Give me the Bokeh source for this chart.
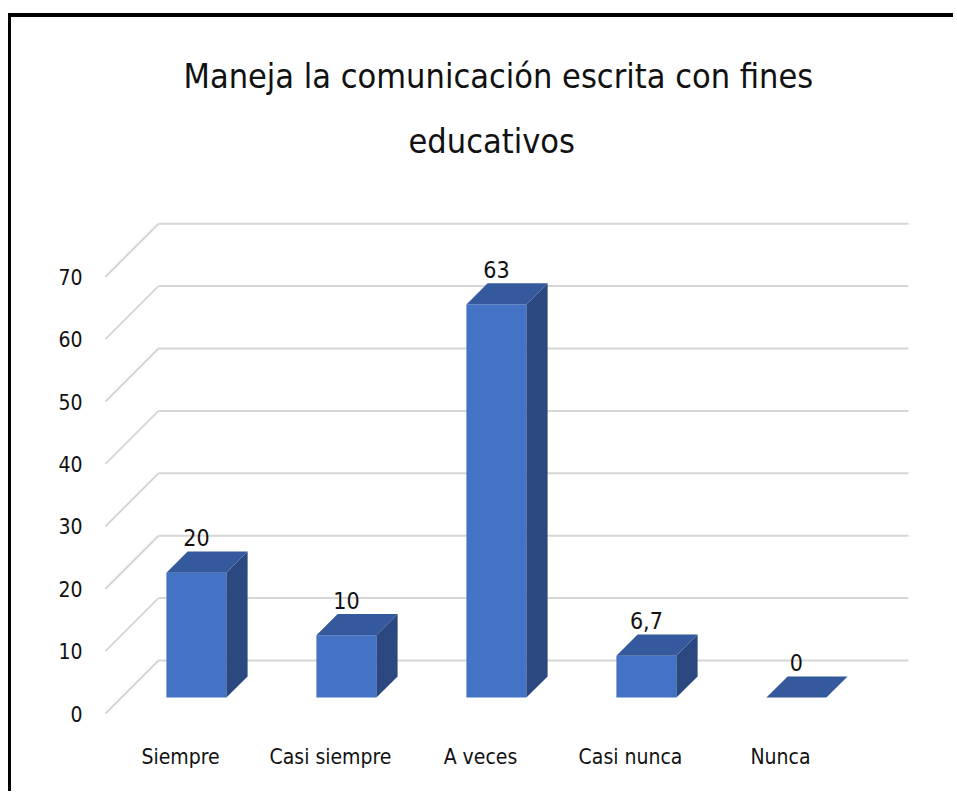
from bokeh.plotting import figure
from bokeh.models import Range1d, FixedTicker, Title, ColumnDataSource
from bokeh.core.properties import value
from bokeh.embed import file_html
from bokeh.resources import INLINE

# ---- data ----
categories = ["Siempre", "Casi siempre", "A veces", "Casi nunca", "Nunca"]
values = [20, 10, 63, 6.7, 0]
y_ticks = [0, 10, 20, 30, 40, 50, 60, 70]
title_line1 = "Maneja la comunicación escrita con fines"
title_line2 = "educativos"

FONT = "'DejaVu Sans Condensed', sans-serif"
TXT = "#111111"
FRONT = "#4472C4"
TOP = "#34599C"
SIDE = "#2B4880"
GRID = "#d6d6d6"

# ---- layout geometry (page pixels) ----
W, H = 945, 778
canvas_x, canvas_y = 11, 17
px_per_cat = 150.0
px_per_unit = 6.24
cat0_px = 180.0
zero_px = 713.0
frame_l, frame_r, frame_t, frame_b = 89, 935, 175, 735
depth_px = 53.0

DX = depth_px / px_per_cat      # depth shift in category units
DY = depth_px / px_per_unit     # depth shift in value units
z0, z1 = 0.3, 0.7               # bar depth range
hw = 30.0 / px_per_cat          # bar half width

p = figure(width=W, height=H, output_backend="svg", toolbar_location=None,
           x_range=Range1d((frame_l - cat0_px) / px_per_cat, (frame_r - cat0_px) / px_per_cat),
           y_range=Range1d(-(frame_b - zero_px) / px_per_unit, (zero_px - frame_t) / px_per_unit),
           min_border_left=frame_l - canvas_x, min_border_right=canvas_x + W - frame_r,
           min_border_top=frame_t - canvas_y, min_border_bottom=canvas_y + H - frame_b,
           outline_line_color=None, background_fill_color="white", border_fill_color="white")
p.margin = (13, 0, 0, 8)
p.styles = {"border-top": "4px solid black", "border-left": "3px solid black"}
p.grid.visible = False

# titles
t2 = Title(text=title_line2, align="left", text_font=FONT, text_font_size="34px",
           text_font_style="normal", text_color=TXT, offset=319, standoff=29)
t1 = Title(text=title_line1, align="left", text_font=FONT, text_font_size="34px",
           text_font_style="normal", text_color=TXT, offset=94, standoff=17)
p.add_layout(t2, "above")
p.add_layout(t1, "above")

# axes
p.yaxis.ticker = FixedTicker(ticks=y_ticks)
p.xaxis.ticker = FixedTicker(ticks=list(range(len(categories))))
p.xaxis.major_label_overrides = {i: c for i, c in enumerate(categories)}
for ax in (p.xaxis[0], p.yaxis[0]):
    ax.axis_line_color = None
    ax.major_tick_line_color = None
    ax.minor_tick_line_color = None
    ax.major_label_text_font = FONT
    ax.major_label_text_font_size = "21px"
    ax.major_label_text_color = TXT
p.yaxis.major_label_standoff = 1
p.xaxis.major_label_standoff = 3

# walls: back gridlines + left wall diagonals
xl, xr = -0.5, len(categories) - 0.5
p.segment(x0=[xl + DX] * len(y_ticks), y0=[v + DY for v in y_ticks],
          x1=[xr + DX] * len(y_ticks), y1=[v + DY for v in y_ticks],
          line_color=GRID, line_width=2)
p.segment(x0=[xl] * len(y_ticks), y0=y_ticks,
          x1=[xl + DX] * len(y_ticks), y1=[v + DY for v in y_ticks],
          line_color=GRID, line_width=2)

# bars
idx = list(range(len(categories)))
front = ColumnDataSource(dict(
    left=[i - hw + z0 * DX for i in idx], right=[i + hw + z0 * DX for i in idx],
    bottom=[z0 * DY] * len(idx), top=[v + z0 * DY for v in values]))
p.quad(left="left", right="right", bottom="bottom", top="top", source=front,
       fill_color=FRONT, line_color=None)

side_xs, side_ys, top_xs, top_ys = [], [], [], []
for i, v in zip(idx, values):
    xa, xb = i + hw + z0 * DX, i + hw + z1 * DX
    side_xs.append([xa, xb, xb, xa])
    side_ys.append([z0 * DY, z1 * DY, v + z1 * DY, v + z0 * DY])
    top_xs.append([i - hw + z0 * DX, i + hw + z0 * DX, i + hw + z1 * DX, i - hw + z1 * DX])
    top_ys.append([v + z0 * DY, v + z0 * DY, v + z1 * DY, v + z1 * DY])
p.patches(side_xs, side_ys, fill_color=SIDE, line_color=None)
p.patches(top_xs, top_ys, fill_color=TOP, line_color=None)

# data labels (a few pixels above the back edge of the bar top)
gap = 14.0 / px_per_unit
labels = [f"{v:g}".replace(".", ",") for v in values]
p.text(x=[i + z0 * DX for i in idx], y=[v + z1 * DY + gap for v in values], text=labels,
       text_align="center", text_baseline="alphabetic",
       text_font=value(FONT), text_font_size="23px", text_color=TXT)

open("out.html", "w").write(file_html(p, INLINE))
